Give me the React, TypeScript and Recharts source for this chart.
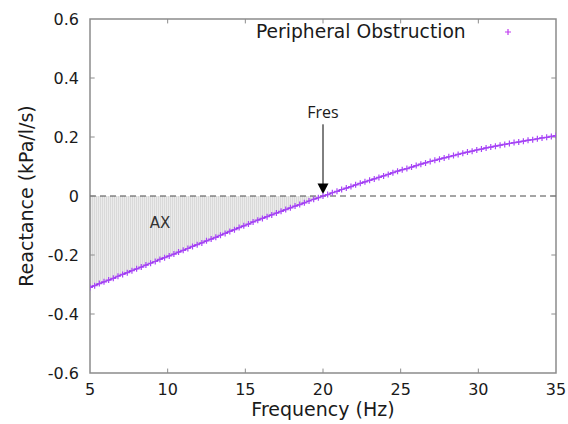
import React from "react";
import {
  ComposedChart,
  Line,
  Area,
  XAxis,
  YAxis,
  ReferenceLine,
  ReferenceArea,
  ReferenceDot,
  Legend,
} from "recharts";

const freq = [
  5.0, 5.3, 5.6, 5.9, 6.2, 6.5, 6.8, 7.1, 7.4, 7.7, 8.0, 8.3, 8.6, 8.9, 9.2, 9.5, 9.8,
  10.1, 10.4, 10.7, 11.0, 11.3, 11.6, 11.9, 12.2, 12.5, 12.8, 13.1, 13.4, 13.7, 14.0,
  14.3, 14.6, 14.9, 15.2, 15.5, 15.8, 16.1, 16.4, 16.7, 17.0, 17.3, 17.6, 17.9, 18.2,
  18.5, 18.8, 19.1, 19.4, 19.7, 20.0, 20.3, 20.6, 20.9, 21.2, 21.5, 21.8, 22.1, 22.4,
  22.7, 23.0, 23.3, 23.6, 23.9, 24.2, 24.5, 24.8, 25.1, 25.4, 25.7, 26.0, 26.3, 26.6,
  26.9, 27.2, 27.5, 27.8, 28.1, 28.4, 28.7, 29.0, 29.3, 29.6, 29.9, 30.2, 30.5, 30.8,
  31.1, 31.4, 31.7, 32.0, 32.3, 32.6, 32.9, 33.2, 33.5, 33.8, 34.1, 34.4, 34.7, 35.0,
];

const reactance = [
  -0.31, -0.304, -0.297, -0.291, -0.285, -0.279, -0.272, -0.266, -0.26, -0.253, -0.247,
  -0.241, -0.234, -0.228, -0.222, -0.215, -0.209, -0.203, -0.197, -0.19, -0.184, -0.178,
  -0.171, -0.165, -0.159, -0.152, -0.146, -0.14, -0.133, -0.127, -0.12, -0.114, -0.107,
  -0.101, -0.095, -0.088, -0.082, -0.076, -0.07, -0.064, -0.058, -0.052, -0.046, -0.04,
  -0.034, -0.029, -0.023, -0.017, -0.011, -0.006, 0.0, 0.005, 0.011, 0.016, 0.022, 0.027,
  0.032, 0.038, 0.043, 0.048, 0.053, 0.058, 0.063, 0.068, 0.073, 0.079, 0.084, 0.089,
  0.093, 0.098, 0.103, 0.108, 0.112, 0.117, 0.121, 0.125, 0.129, 0.133, 0.137, 0.141,
  0.145, 0.149, 0.152, 0.156, 0.159, 0.163, 0.166, 0.169, 0.172, 0.175, 0.178, 0.181,
  0.183, 0.186, 0.189, 0.191, 0.194, 0.197, 0.199, 0.202, 0.205,
];

const xTicks = [5, 10, 15, 20, 25, 30, 35];
const yTicks = [-0.6, -0.4, -0.2, 0, 0.2, 0.4, 0.6];
const innerXTicks = [10, 15, 20, 25, 30];
const innerYTicks = [-0.4, -0.2, 0, 0.2, 0.4];
const fres = 20;
const seriesName = "Peripheral Obstruction";
const xLabel = "Frequency (Hz)";
const yLabel = "Reactance (kPa/l/s)";
const fresLabel = "Fres";
const axLabel = "AX";
const fresLabelY = 0.283;
const fresArrowTop = 0.243;
const fresArrowBottom = 0.04;
const axLabelPos = { x: 9.5, y: -0.09 };

const X_MIN = 5;
const X_MAX = 35;
const Y_MIN = -0.6;
const Y_MAX = 0.6;

const data = freq.map((f, i) => ({
  f,
  x: reactance[i],
  ax: f <= fres ? reactance[i] : null,
}));

const FONT = "'DejaVu Sans', sans-serif";
const LINE_COLOR = "#8f2fe8";
const MARK_COLOR = "#a845f7";
const FRAME = "#8c8c8c";

const PlusDot = (props: any) => {
  const { cx, cy, index } = props;
  if (cx == null || cy == null) return <g key={index} />;
  const s = 3;
  return (
    <path
      key={index}
      d={`M${cx - s},${cy} L${cx + s},${cy} M${cx},${cy - s} L${cx},${cy + s}`}
      stroke={MARK_COLOR}
      strokeWidth={1.2}
      fill="none"
    />
  );
};

const ArrowHead = (props: any) => {
  const { cx, cy } = props;
  return (
    <path
      d={`M${cx - 5.5},${cy - 12.5} L${cx + 5.5},${cy - 12.5} L${cx},${cy - 2} Z`}
      fill="#000"
    />
  );
};

const LegendContent = () => (
  <div
    style={{
      display: "flex",
      alignItems: "center",
      fontFamily: FONT,
      fontSize: 18.7,
      color: "#1a1a1a",
      lineHeight: "20px",
      whiteSpace: "nowrap",
    }}
  >
    <span>{seriesName}</span>
    <svg width={12} height={12} style={{ marginLeft: 36 }}>
      <path d="M3,6 L9,6 M6,3 L6,9" stroke="#c03cf0" strokeWidth={1.2} />
    </svg>
  </div>
);

export default function App() {
  return (
    <div style={{ width: 568, height: 424 }}>
      <style>{`html, body { margin: 0; padding: 0; } svg.recharts-surface { overflow: visible; }`}</style>
      <ComposedChart
        width={568}
        height={424}
        data={data}
        margin={{ top: 19, right: 12, bottom: 0, left: 0 }}
      >
        <defs>
          <pattern id="hatch" width="2" height="4" patternUnits="userSpaceOnUse">
            <rect x="0" y="0" width="2" height="4" fill="#ebebeb" />
            <line x1="0.5" y1="0" x2="0.5" y2="4" stroke="#d9d9d9" strokeWidth="1" />
          </pattern>
        </defs>
        <XAxis
          dataKey="f"
          type="number"
          domain={[X_MIN, X_MAX]}
          ticks={xTicks}
          allowDataOverflow
          axisLine={false}
          tickLine={false}
          tickSize={0}
          tickMargin={11}
          height={51}
          interval={0}
          tick={{ fontSize: 16, fontFamily: FONT, fill: "#1a1a1a" }}
          label={{
            value: xLabel,
            position: "insideBottom",
            offset: 8,
            style: { fontSize: 19, fontFamily: FONT, fill: "#1a1a1a" },
          }}
        />
        <YAxis
          type="number"
          domain={[Y_MIN, Y_MAX]}
          ticks={yTicks}
          allowDataOverflow
          axisLine={false}
          tickLine={false}
          tickSize={0}
          tickMargin={11}
          width={90}
          interval={0}
          tickFormatter={(v: number) => (v === 0 ? "0" : v.toFixed(1))}
          tick={{ fontSize: 16, fontFamily: FONT, fill: "#1a1a1a" }}
          label={{
            value: yLabel,
            angle: -90,
            position: "insideLeft",
            offset: 26,
            style: { textAnchor: "middle", fontSize: 19, fontFamily: FONT, fill: "#1a1a1a" },
          }}
        />
        <Legend
          layout="vertical"
          align="center"
          verticalAlign="middle"
          content={LegendContent}
          wrapperStyle={{ position: "absolute", top: 22, left: 256, width: 310 }}
        />
        <Area
          dataKey="ax"
          type="linear"
          baseValue={0}
          stroke="none"
          fill="url(#hatch)"
          fillOpacity={1}
          isAnimationActive={false}
          legendType="none"
          activeDot={false}
        />
        <ReferenceLine y={0} stroke="#4a4a4a" strokeDasharray="6 4" strokeWidth={1} />
        <ReferenceArea
          x1={X_MIN}
          x2={X_MAX}
          y1={Y_MIN}
          y2={Y_MAX}
          fill="none"
          stroke={FRAME}
          strokeWidth={1.5}
          ifOverflow="visible"
        />
        {innerYTicks.map((v) => (
          <ReferenceLine
            key={`l${v}`}
            segment={[{ x: X_MIN, y: v }, { x: X_MIN + 0.3, y: v }]}
            stroke={FRAME}
            strokeWidth={1}
          />
        ))}
        {innerYTicks.map((v) => (
          <ReferenceLine
            key={`r${v}`}
            segment={[{ x: X_MAX - 0.3, y: v }, { x: X_MAX, y: v }]}
            stroke={FRAME}
            strokeWidth={1}
          />
        ))}
        {innerXTicks.map((v) => (
          <ReferenceLine
            key={`b${v}`}
            segment={[{ x: v, y: Y_MIN }, { x: v, y: Y_MIN + 0.015 }]}
            stroke={FRAME}
            strokeWidth={1}
          />
        ))}
        {innerXTicks.map((v) => (
          <ReferenceLine
            key={`t${v}`}
            segment={[{ x: v, y: Y_MAX - 0.015 }, { x: v, y: Y_MAX }]}
            stroke={FRAME}
            strokeWidth={1}
          />
        ))}
        <ReferenceLine
          segment={[{ x: fres, y: fresArrowTop }, { x: fres, y: fresArrowBottom }]}
          stroke="#000"
          strokeWidth={1}
        />
        <ReferenceDot x={fres} y={0} shape={ArrowHead} ifOverflow="visible" />
        <ReferenceDot
          x={fres}
          y={fresLabelY}
          r={0}
          fill="none"
          stroke="none"
          label={{
            value: fresLabel,
            position: "center",
            style: { fontSize: 16, fontFamily: "'Open Sans', sans-serif", fill: "#1a1a1a" },
          }}
        />
        <ReferenceDot
          x={axLabelPos.x}
          y={axLabelPos.y}
          r={0}
          fill="none"
          stroke="none"
          label={{
            value: axLabel,
            position: "center",
            style: { fontSize: 15, fontFamily: FONT, fill: "#333" },
          }}
        />
        <Line
          dataKey="x"
          name={seriesName}
          type="linear"
          stroke={LINE_COLOR}
          strokeWidth={1.3}
          dot={PlusDot}
          activeDot={false}
          isAnimationActive={false}
        />
      </ComposedChart>
    </div>
  );
}
